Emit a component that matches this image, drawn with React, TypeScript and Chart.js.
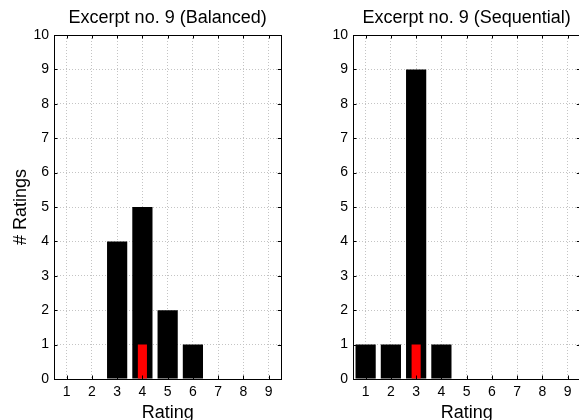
import React, { useEffect, useRef } from "react";
import { Chart, registerables } from "chart.js";

Chart.register(...registerables);

const RATINGS = ["1", "2", "3", "4", "5", "6", "7", "8", "9"];
const BALANCED_COUNTS = [0, 0, 4, 5, 2, 1, 0, 0, 0];
const BALANCED_HIGHLIGHT = [0, 0, 0, 1, 0, 0, 0, 0, 0];
const SEQUENTIAL_COUNTS = [1, 1, 9, 1, 0, 0, 0, 0, 0];
const SEQUENTIAL_HIGHLIGHT = [0, 0, 1, 0, 0, 0, 0, 0, 0];
const Y_MIN = 0;
const Y_MAX = 10;
const Y_STEP = 1;
const TITLE_BALANCED = "Excerpt no. 9 (Balanced)";
const TITLE_SEQUENTIAL = "Excerpt no. 9 (Sequential)";
const X_TITLE = "Rating";
const Y_TITLE = "# Ratings";

const FONT = "'Liberation Sans', Arial, Helvetica, sans-serif";

const boxPlugin = {
  id: "matlabBox",
  afterDatasetsDraw(chart: any) {
    const { ctx, chartArea, scales } = chart;
    const { left, right, top, bottom } = chartArea;
    const tl = 3.5;
    ctx.save();
    ctx.strokeStyle = "#000";
    ctx.lineWidth = 1;
    ctx.beginPath();
    const xs = scales.x;
    xs.ticks.forEach((_t: any, i: number) => {
      const px = Math.round(xs.getPixelForTick(i)) + 0.5;
      ctx.moveTo(px, bottom);
      ctx.lineTo(px, bottom - tl);
      ctx.moveTo(px, top);
      ctx.lineTo(px, top + tl);
    });
    const ys = scales.y;
    ys.ticks.forEach((_t: any, i: number) => {
      const py = Math.round(ys.getPixelForTick(i)) + 0.5;
      ctx.moveTo(left, py);
      ctx.lineTo(left + tl, py);
      ctx.moveTo(right, py);
      ctx.lineTo(right - tl, py);
    });
    ctx.stroke();
    const l = Math.round(left) + 0.5;
    const t = Math.round(top) + 0.5;
    const r = Math.round(right) + 0.5;
    const b = Math.round(bottom) + 0.5;
    ctx.strokeRect(l, t, r - l, b - t);
    ctx.restore();
  },
};

type PanelProps = {
  title: string;
  counts: number[];
  highlight: number[];
  showYTitle: boolean;
  left: number;
};

const CANVAS_W = 290;
const CANVAS_H = 425;

function Panel({ title, counts, highlight, showYTitle, left }: PanelProps) {
  const ref = useRef<HTMLCanvasElement | null>(null);
  useEffect(() => {
    if (!ref.current) return;
    const chart = new Chart(ref.current, {
      type: "bar",
      data: {
        labels: RATINGS,
        datasets: [
          {
            data: highlight,
            backgroundColor: "#ff0000",
            borderWidth: 0,
            barPercentage: 0.36,
            categoryPercentage: 1,
            grouped: false,
            order: 0,
          } as any,
          {
            data: counts,
            backgroundColor: "#000000",
            borderWidth: 0,
            barPercentage: 0.8,
            categoryPercentage: 1,
            grouped: false,
            order: 1,
          } as any,
        ],
      },
      options: {
        animation: false,
        responsive: false,
        events: [],
        layout: { padding: { left: 0, right: 8.7, top: 0, bottom: 0 } },
        plugins: {
          legend: { display: false },
          tooltip: { enabled: false },
          title: {
            display: true,
            text: title,
            fullSize: false,
            color: "#000",
            font: { family: FONT, size: 18, weight: "normal" },
            padding: { top: 7.5, bottom: 5.9 },
          } as any,
        },
        scales: {
          x: {
            type: "category",
            offset: true,
            grid: {
              display: true,
              offset: false,
              drawTicks: false,
              color: "#c4c4c4",
              lineWidth: 1,
            },
            border: { display: false, dash: [1, 2] },
            ticks: {
              color: "#000",
              padding: 5,
              font: { family: FONT, size: 14 },
              maxRotation: 0,
              autoSkip: false,
            },
            title: {
              display: true,
              text: X_TITLE,
              color: "#000",
              font: { family: FONT, size: 18 },
              padding: { top: 0, bottom: 1.6 },
            },
            afterFit(scale: any) {
              scale.height = CANVAS_H - 379;
            },
          } as any,
          y: {
            type: "linear",
            min: Y_MIN,
            max: Y_MAX,
            grid: {
              display: true,
              drawTicks: false,
              color: "#c4c4c4",
              lineWidth: 1,
            },
            border: { display: false, dash: [1, 2] },
            ticks: {
              stepSize: Y_STEP,
              color: "#000",
              padding: 5,
              font: { family: FONT, size: 14 },
            },
            title: {
              display: showYTitle,
              text: Y_TITLE,
              color: "#000",
              font: { family: FONT, size: 18 },
              padding: { top: 10, bottom: 0 },
            },
            afterFit(scale: any) {
              scale.width = 54;
            },
          } as any,
        },
      },
      plugins: [boxPlugin],
    });
    return () => chart.destroy();
  }, [title, counts, highlight, showYTitle]);

  return (
    <canvas
      ref={ref}
      width={CANVAS_W}
      height={CANVAS_H}
      style={{
        position: "absolute",
        left,
        top: 0,
        width: CANVAS_W,
        height: CANVAS_H,
      }}
    />
  );
}

export default function App() {
  return (
    <div
      style={{
        position: "fixed",
        left: 0,
        top: 0,
        width: 579,
        height: 420,
        overflow: "hidden",
        background: "#fff",
      }}
    >
      <Panel
        title={TITLE_BALANCED}
        counts={BALANCED_COUNTS}
        highlight={BALANCED_HIGHLIGHT}
        showYTitle={true}
        left={0}
      />
      <Panel
        title={TITLE_SEQUENTIAL}
        counts={SEQUENTIAL_COUNTS}
        highlight={SEQUENTIAL_HIGHLIGHT}
        showYTitle={false}
        left={299}
      />
    </div>
  );
}
